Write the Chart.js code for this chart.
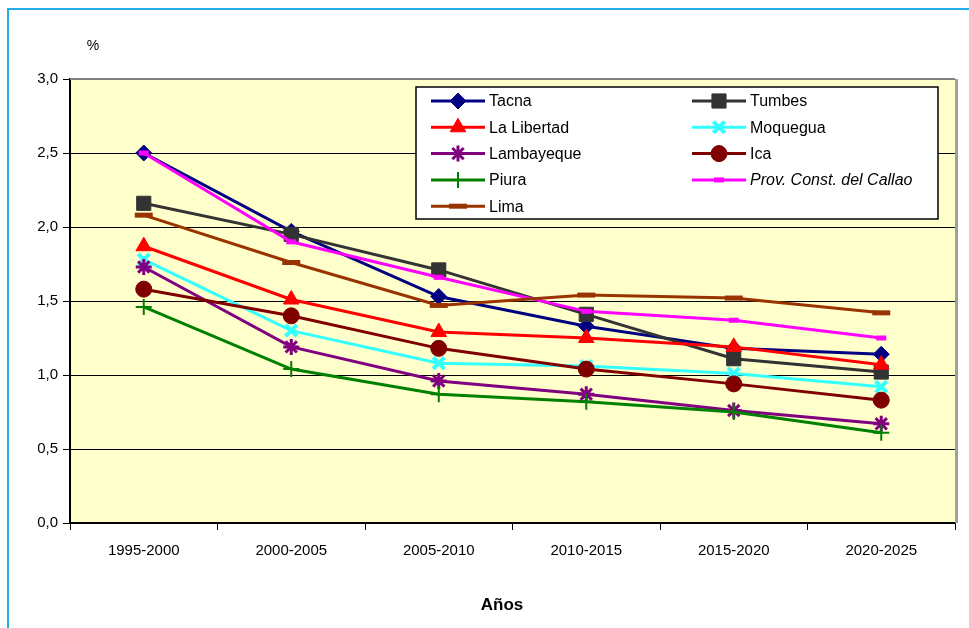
<!DOCTYPE html>
<html>
<head>
<meta charset="utf-8">
<title>Tasa de crecimiento</title>
<script src="https://cdn.jsdelivr.net/npm/chart.js@4.4.1/dist/chart.umd.min.js"></script>
<style>
  html, body { margin: 0; padding: 0; background: #ffffff; overflow: hidden; }
  #wrap { position: relative; width: 969px; height: 628px; }
  #frame { position: absolute; left: 7px; top: 8px; width: 1000px; height: 700px; border: 2px solid #22aee6; box-sizing: border-box; pointer-events: none; }
  canvas { position: absolute; left: 0; top: 0; }
</style>
</head>
<body>
<div id="wrap">
  <canvas id="myChart" width="969" height="628"></canvas>
  <div id="frame"></div>
</div>
<script>
// Chart data
var categories = ['1995-2000', '2000-2005', '2005-2010', '2010-2015', '2015-2020', '2020-2025'];
var yTickLabels = ['0,0', '0,5', '1,0', '1,5', '2,0', '2,5', '3,0'];

var tacna      = [2.50, 1.97, 1.53, 1.33, 1.18, 1.14];
var tumbes     = [2.16, 1.95, 1.71, 1.41, 1.11, 1.02];
var laLibertad = [1.87, 1.51, 1.29, 1.25, 1.19, 1.07];
var moquegua   = [1.78, 1.30, 1.08, 1.06, 1.01, 0.92];
var lambayeque = [1.73, 1.19, 0.96, 0.87, 0.76, 0.67];
var ica        = [1.58, 1.40, 1.18, 1.04, 0.94, 0.83];
var piura      = [1.46, 1.04, 0.87, 0.82, 0.75, 0.61];
var callao     = [2.50, 1.90, 1.66, 1.43, 1.37, 1.25];
var lima       = [2.08, 1.76, 1.47, 1.54, 1.52, 1.42];

// Build one dataset
function makeSeries(label, data, color, style, radius, pointWidth, index) {
    return {
        label: label,
        data: data,
        borderColor: color,
        backgroundColor: color,
        borderWidth: 3,
        pointStyle: style,
        pointRadius: radius,
        pointBorderWidth: pointWidth,
        pointBackgroundColor: color,
        pointBorderColor: color,
        order: 8 - index, // later series on top, like the original
        tension: 0
    };
}

var datasets = [
    makeSeries('Tacna', tacna, '#000080', 'rectRot', 8, 1, 0),
    makeSeries('Tumbes', tumbes, '#333333', 'rect', 10, 1, 1),
    makeSeries('La Libertad', laLibertad, '#ff0000', 'triangle', 9, 1, 2),
    makeSeries('Moquegua', moquegua, '#33ffff', 'crossRot', 8, 4, 3),
    makeSeries('Lambayeque', lambayeque, '#800080', 'star', 8, 3, 4),
    makeSeries('Ica', ica, '#800000', 'circle', 8, 1, 5),
    makeSeries('Piura', piura, '#008000', 'cross', 8, 2, 6),
    makeSeries('Prov. Const. del Callao', callao, '#ff00ff', 'line', 5, 5, 7),
    makeSeries('Lima', lima, '#993300', 'line', 9, 5, 8)
];

// Plot background, plot frame, legend box and free texts
var excelLook = {
    id: 'excelLook',
    beforeDraw: function(chart) {
        var ctx = chart.ctx;
        var a = chart.chartArea;
        ctx.save();
        ctx.fillStyle = '#ffffcc';
        ctx.fillRect(a.left, a.top, a.right - a.left, a.bottom - a.top);
        ctx.restore();
    },
    beforeDatasetsDraw: function(chart) {
        var ctx = chart.ctx;
        var a = chart.chartArea;
        ctx.save();
        ctx.strokeStyle = '#808080';
        ctx.lineWidth = 2;
        ctx.beginPath();
        ctx.moveTo(a.left, a.top);
        ctx.lineTo(a.right, a.top);
        ctx.stroke();
        ctx.lineWidth = 3;
        ctx.strokeStyle = '#a0a0a0';
        ctx.beginPath();
        ctx.moveTo(a.right + 1.5, a.top);
        ctx.lineTo(a.right + 1.5, a.bottom);
        ctx.stroke();
        ctx.restore();
    },
    afterDraw: function(chart) {
        var ctx = chart.ctx;
        ctx.save();

        // axis texts
        ctx.fillStyle = '#000';
        ctx.textAlign = 'center';
        ctx.textBaseline = 'middle';
        ctx.font = '14px "Liberation Sans", Arial, sans-serif';
        ctx.fillText('%', 93, 46);
        ctx.font = 'bold 17px "Liberation Sans", Arial, sans-serif';
        ctx.fillText('Años', 502, 605);

        // legend box
        var bx = 416, by = 87, bw = 522, bh = 132;
        ctx.fillStyle = '#ffffff';
        ctx.fillRect(bx, by, bw, bh);
        ctx.strokeStyle = '#000';
        ctx.lineWidth = 1.5;
        ctx.strokeRect(bx, by, bw, bh);

        var ds = chart.data.datasets;
        for (var i = 0; i < ds.length; i++) {
            var col = i % 2;
            var row = Math.floor(i / 2);
            var x0 = col === 0 ? 431 : 692;
            var y = 101 + row * 26.3;
            ctx.strokeStyle = ds[i].borderColor;
            ctx.lineWidth = 3;
            ctx.beginPath();
            ctx.moveTo(x0, y);
            ctx.lineTo(x0 + 54, y);
            ctx.stroke();

            ctx.fillStyle = ds[i].pointBackgroundColor;
            ctx.strokeStyle = ds[i].pointBorderColor;
            ctx.lineWidth = ds[i].pointBorderWidth;
            Chart.helpers.drawPoint(ctx, {
                pointStyle: ds[i].pointStyle,
                rotation: 0,
                radius: ds[i].pointRadius,
                borderWidth: ds[i].pointBorderWidth
            }, x0 + 27, y);

            ctx.fillStyle = '#000';
            ctx.textAlign = 'left';
            ctx.textBaseline = 'middle';
            ctx.font = (i === 7 ? 'italic ' : '') + '16px "Liberation Sans", Arial, sans-serif';
            ctx.fillText(ds[i].label, x0 + 58, y + 1);
        }
        ctx.restore();
    }
};

var ctx = document.getElementById('myChart').getContext('2d');
var myChart = new Chart(ctx, {
    type: 'line',
    data: {
        labels: categories,
        datasets: datasets
    },
    options: {
        responsive: false,
        maintainAspectRatio: false,
        animation: false,
        layout: {
            padding: { top: 79, right: 9, left: 0, bottom: 0 }
        },
        plugins: {
            legend: { display: false },
            tooltip: { enabled: false },
            title: { display: false }
        },
        scales: {
            x: {
                offset: true,
                afterFit: function(scale) { scale.height = 105; },
                grid: {
                    offset: true,
                    drawOnChartArea: false,
                    drawTicks: true,
                    tickLength: 7,
                    tickColor: '#000',
                    tickWidth: 1
                },
                border: { color: '#000', width: 2 },
                ticks: {
                    color: '#000',
                    padding: 12,
                    maxRotation: 0,
                    autoSkip: false,
                    font: { family: '"Liberation Sans", Arial, sans-serif', size: 15 }
                }
            },
            y: {
                min: 0,
                max: 3,
                afterFit: function(scale) { scale.width = 70; },
                grid: {
                    color: function(c) { return c.tick && c.tick.value === 3 ? 'rgba(0,0,0,0)' : '#000'; },
                    lineWidth: 1,
                    drawTicks: true,
                    tickLength: 7,
                    tickColor: '#000'
                },
                border: { color: '#000', width: 2 },
                ticks: {
                    stepSize: 0.5,
                    color: '#000',
                    padding: 5,
                    font: { family: '"Liberation Sans", Arial, sans-serif', size: 15 },
                    callback: function(value, index) { return yTickLabels[index]; }
                }
            }
        }
    },
    plugins: [excelLook]
});
</script>
</body>
</html>
